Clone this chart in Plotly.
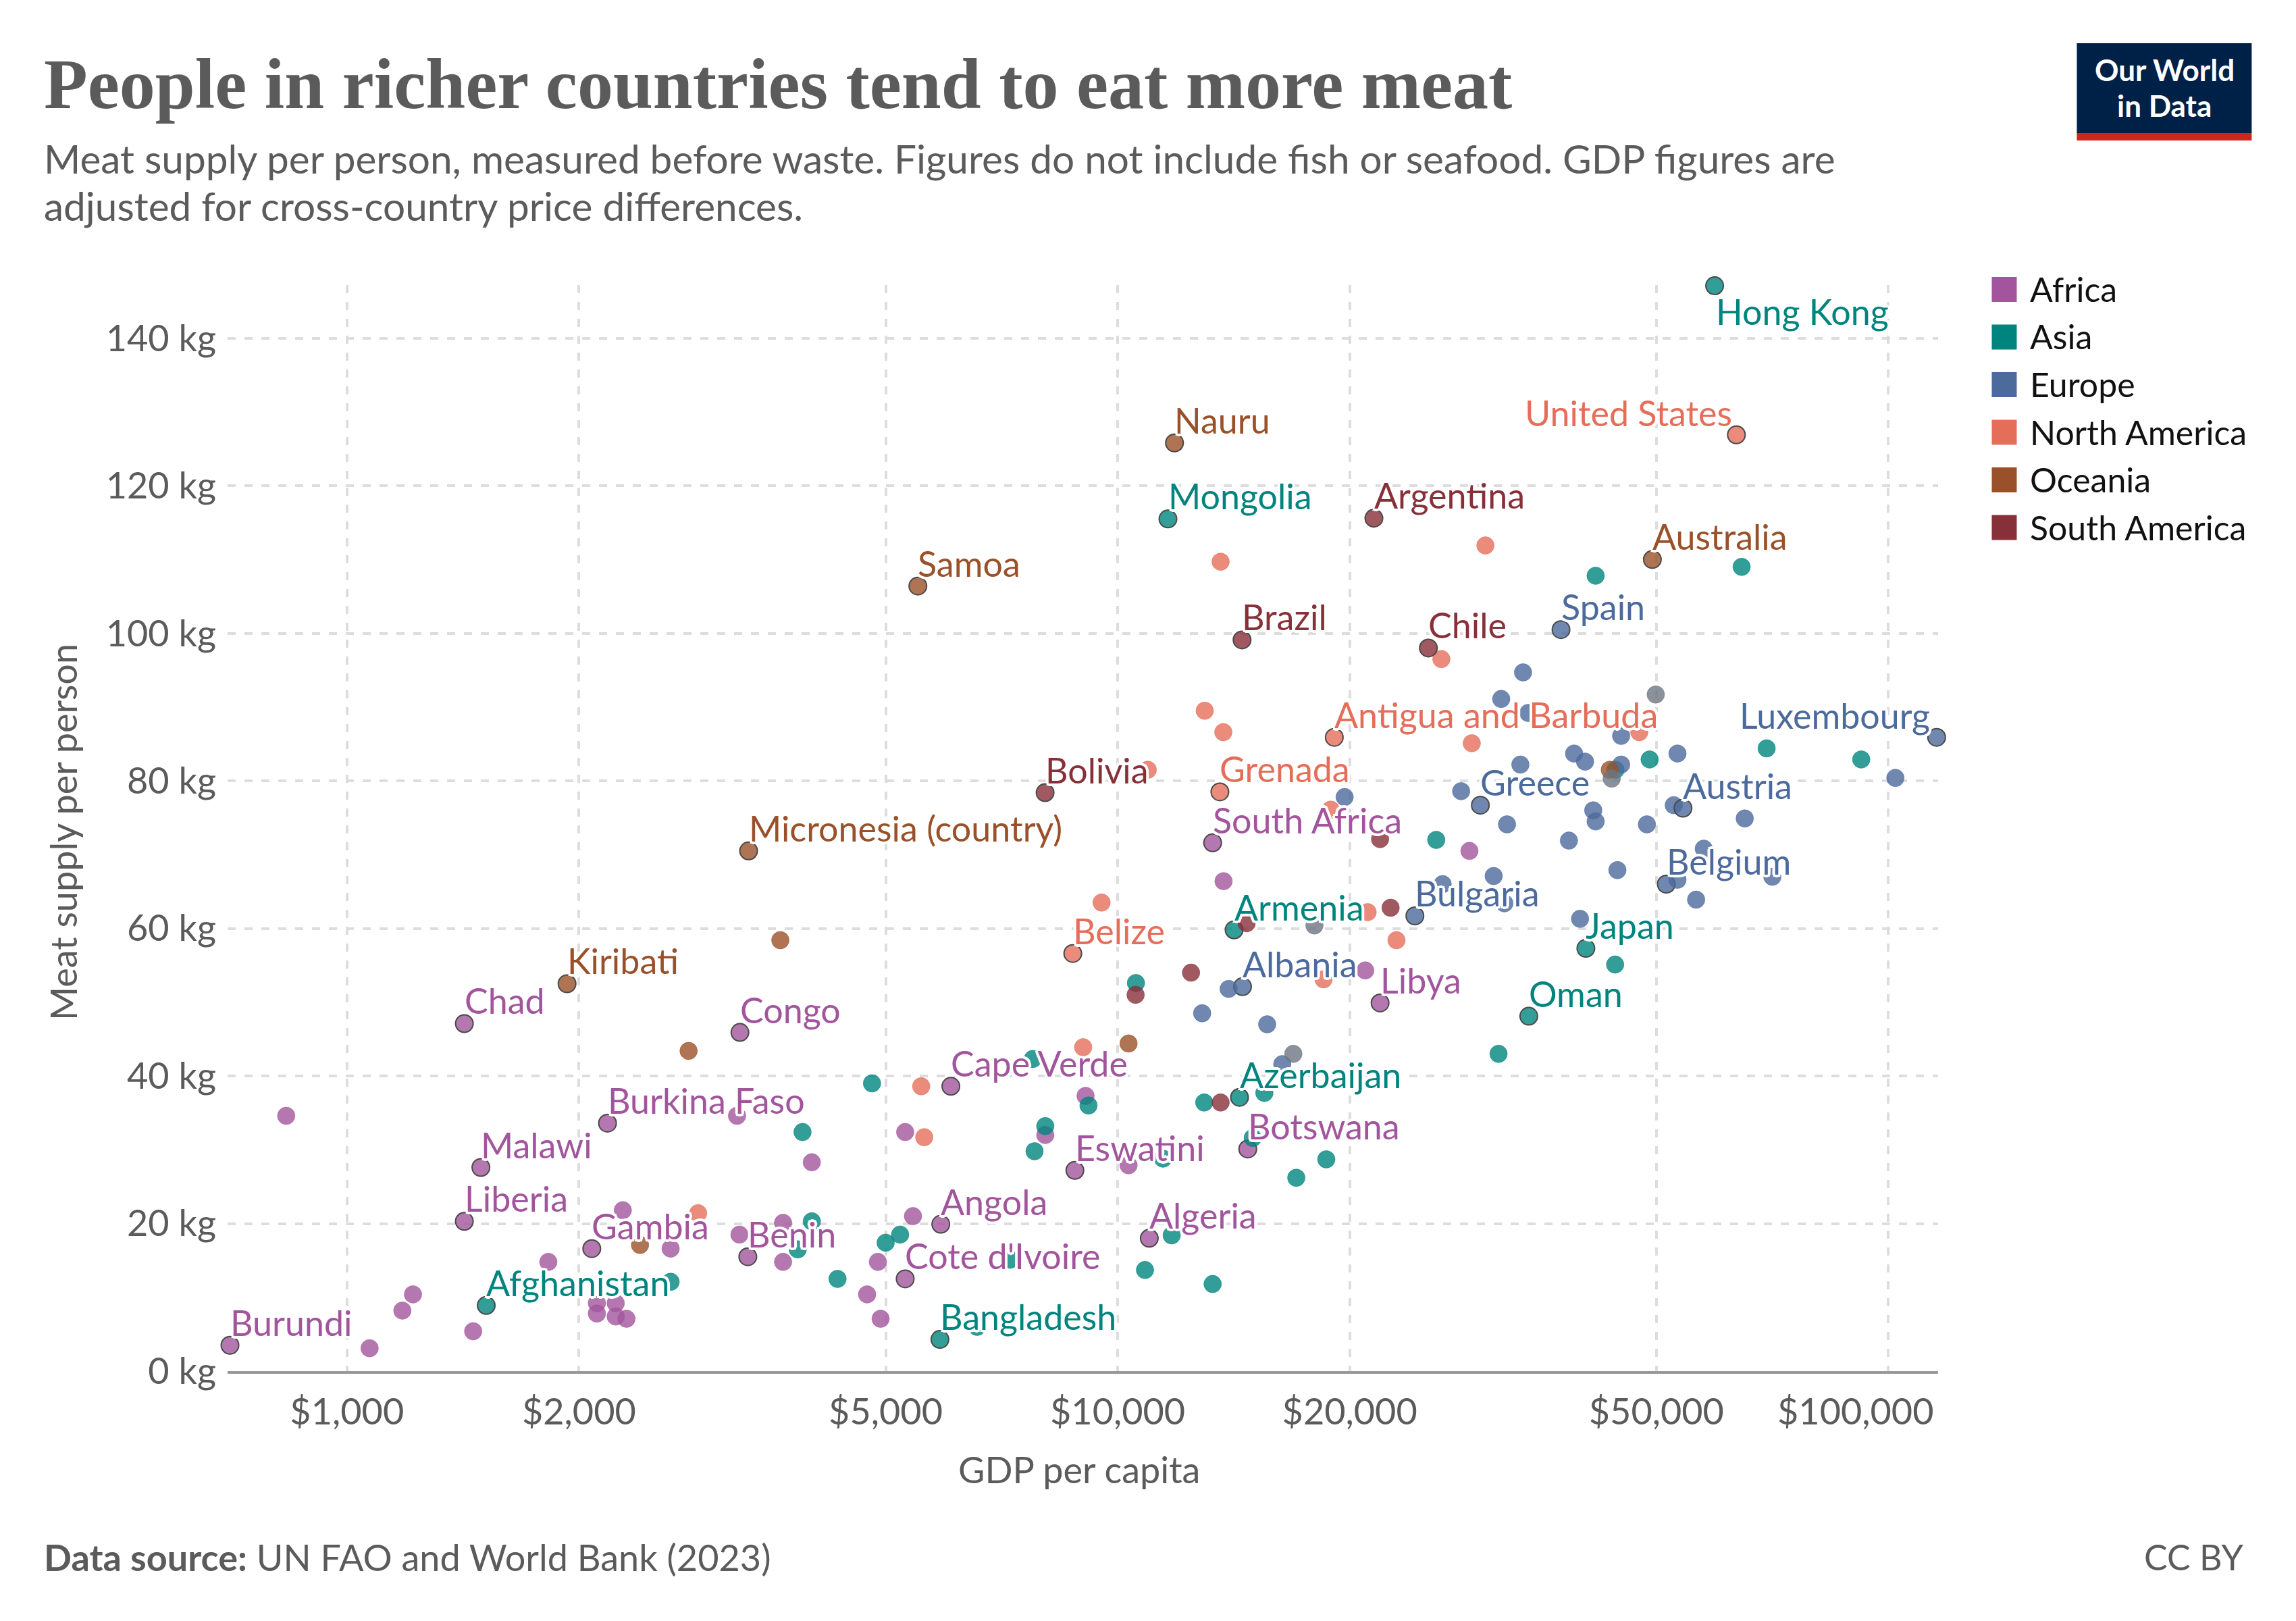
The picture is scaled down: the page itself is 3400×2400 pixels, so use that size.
import math

import plotly.graph_objects as go


# Values: GDP per capita ($), meat supply (kg), "" = no label
AFRICA_GDP = [705, 834, 1070, 1180, 1218, 1458, 1420, 1420, 1492, 1825, 2078, 2178, 2280, 2110, 2110,
              2232, 2232, 2305, 2630, 3230, 3312, 3680, 3680, 3235, 3207, 4010, 4730, 4925, 4885, 5300,
              5425, 5895, 5300, 6075, 8055, 8800, 10330, 9085, 10990, 13280, 13720, 28600, 20950, 21900, 14750]
AFRICA_MEAT = [3.5, 34.6, 3.1, 8.2, 10.4, 5.4, 47.1, 20.3, 27.6, 14.8, 16.6, 33.6, 21.8, 9.2, 7.8,
               9.2, 7.4, 7.1, 16.6, 18.5, 15.5, 14.8, 20.1, 45.9, 34.6, 28.3, 10.4, 7.1, 14.8, 12.5,
               21.0, 19.9, 32.4, 38.6, 32.0, 27.2, 27.9, 37.3, 18.0, 71.6, 66.4, 70.5, 54.3, 49.9, 30.1]
AFRICA_NAMES = ["Burundi", "", "", "", "", "", "Chad", "Liberia", "Malawi", "", "Gambia", "Burkina Faso", "", "", "",
                "", "", "", "", "", "Benin", "", "", "Congo", "", "", "", "", "", "Cote d'Ivoire",
                "", "Angola", "", "Cape Verde", "", "Eswatini", "", "", "Algeria", "South Africa", "", "", "", "Libya",
                "Botswana"]

ASIA_GDP = [1516, 3900, 4330, 4800, 5000, 5220, 5880, 6570, 7800, 8055, 9165, 7760, 10560, 10850, 7250,
            3845, 2630, 4010, 11450, 11620, 59500, 41700, 64500, 25900, 44250, 49000, 69500, 92200, 14160, 40500,
            44200, 34150, 31200, 15500, 14390, 12950, 14970, 18650, 17050, 11750, 13280]
ASIA_MEAT = [8.9, 32.4, 12.5, 39.0, 17.4, 18.5, 4.3, 6.0, 29.8, 33.2, 36.0, 42.3, 52.6, 13.7, 15.1,
             16.5, 12.1, 20.3, 28.8, 115.5, 147.1, 107.8, 109.0, 72.0, 81.5, 82.9, 84.4, 82.9, 59.8, 57.3,
             55.1, 48.1, 43.0, 37.7, 37.1, 36.4, 31.6, 28.7, 26.2, 18.4, 11.8]
ASIA_NAMES = ["Afghanistan", "", "", "", "", "", "Bangladesh", "", "", "", "", "", "", "", "",
              "", "", "", "", "Mongolia", "Hong Kong", "", "", "", "", "", "", "", "Armenia", "Japan",
              "", "Oman", "", "", "Azerbaijan", "", "", "", "", "", ""]

EUROPE_GDP = [37600, 33570, 31450, 115500, 102100, 65100, 45000, 39100, 40400, 45000, 53250, 33300, 29550, 27900,
              32000, 19700, 52660, 54130, 41400, 41700, 48600, 38500, 44500, 51500, 53250, 57600, 56300, 70700,
              30750, 24300, 39800, 31750, 26400, 14520, 13930, 12870, 15630, 16350, 34100]
EUROPE_MEAT = [100.5, 94.7, 91.1, 85.9, 80.4, 74.9, 86.1, 83.7, 82.6, 82.2, 83.7, 82.2, 76.7, 78.6,
               74.1, 77.8, 76.7, 76.3, 76.0, 74.5, 74.1, 71.9, 67.9, 66.0, 66.6, 70.8, 63.9, 67.0,
               67.1, 61.7, 61.3, 63.4, 66.0, 52.1, 51.8, 48.5, 47.0, 41.6, 89.2]
EUROPE_NAMES = ["Spain", "", "", "Luxembourg", "", "", "", "", "", "", "", "", "Greece", "",
                "", "", "", "Austria", "", "", "", "", "", "Belgium", "", "", "", "",
                "", "Bulgaria", "", "", "", "Albania", "", "", "", "", ""]

NAMERICA_GDP = [63500, 30000, 13600, 26300, 12970, 13710, 19100, 28800, 47500, 10940, 13570, 18900,
                21100, 23000, 18500, 8745, 9530, 9020, 5560, 5610, 2855]
NAMERICA_MEAT = [126.9, 111.9, 109.7, 96.5, 89.5, 86.6, 85.9, 85.1, 86.6, 81.5, 78.5, 76.1,
                 62.2, 58.4, 53.1, 56.6, 63.5, 43.9, 38.6, 31.7, 21.4]
NAMERICA_NAMES = ["United States", "", "", "", "", "", "Antigua and Barbuda", "", "", "", "Grenada", "",
                  "", "", "", "Belize", "", "", "", "", ""]

OCEANIA_GDP = [11850, 5505, 3320, 3650, 1930, 2775, 2400, 10330, 49400, 43500]
OCEANIA_MEAT = [125.8, 106.4, 70.5, 58.4, 52.5, 43.4, 17.1, 44.4, 110.0, 81.5]
OCEANIA_NAMES = ["Nauru", "Samoa", "Micronesia (country)", "", "Kiribati", "", "", "", "Australia", ""]

SAMERICA_GDP = [21500, 14500, 25300, 8050, 21900, 22600, 14700, 12450, 13600, 10550]
SAMERICA_MEAT = [115.6, 99.1, 98.0, 78.4, 72.1, 62.8, 60.7, 54.0, 36.4, 51.0]
SAMERICA_NAMES = ["Argentina", "Brazil", "Chile", "Bolivia", "", "", "", "", "", ""]

# countries without a continent in the source, drawn grey
OTHER_GDP = [49900, 43750, 18000, 16900]
OTHER_MEAT = [91.7, 80.3, 60.4, 43.0]
OTHER_NAMES = ["", "", "", ""]

X_TICKS = [1000, 2000, 5000, 10000, 20000, 50000, 100000]
X_TICK_LABELS = ["$1,000", "$2,000", "$5,000", "$10,000", "$20,000", "$50,000", "$100,000"]
Y_TICKS = [0, 20, 40, 60, 80, 100, 120, 140]
Y_TICK_LABELS = ["0 kg", "20 kg", "40 kg", "60 kg", "80 kg", "100 kg", "120 kg", "140 kg"]

CONTINENTS = ["Africa", "Asia", "Europe", "North America", "Oceania", "South America"]
COLORES = ["#A2559C", "#00847E", "#4C6A9C", "#E56E5A", "#9A5129", "#883039"]

SERIES = [
    (AFRICA_GDP, AFRICA_MEAT, AFRICA_NAMES, "#A2559C"),
    (ASIA_GDP, ASIA_MEAT, ASIA_NAMES, "#00847E"),
    (EUROPE_GDP, EUROPE_MEAT, EUROPE_NAMES, "#4C6A9C"),
    (NAMERICA_GDP, NAMERICA_MEAT, NAMERICA_NAMES, "#E56E5A"),
    (OCEANIA_GDP, OCEANIA_MEAT, OCEANIA_NAMES, "#9A5129"),
    (SAMERICA_GDP, SAMERICA_MEAT, SAMERICA_NAMES, "#883039"),
    (OTHER_GDP, OTHER_MEAT, OTHER_NAMES, "#6E7581"),
]

# Plot area in page pixels
LEFT, RIGHT, TOP, BOTTOM = 337, 2870.5, 422, 2030
FUENTE = "Lato"
GRIS = "#5b5b5b"
HALO = ",".join(f"{a}px {b}px 0 #fff" for a, b in
                [(-4, 0), (4, 0), (0, -4), (0, 4), (-3, -3), (3, -3), (-3, 3), (3, 3),
                 (-2, 0), (2, 0), (0, -2), (0, 2)])

# Labels that do not sit just above and to the right of their point
LABEL_SPECIAL = {
    "Hong Kong": dict(xanchor="left", xshift=0, yshift=-38),
    "United States": dict(xanchor="right", xshift=-4, yshift=33),
    "Luxembourg": dict(xanchor="right", xshift=-8, yshift=33),
}


def px_x(px):
    return (px - LEFT) / (RIGHT - LEFT)


def px_y(py):
    return (BOTTOM - py) / (BOTTOM - TOP)


def rgba(color, alpha):
    r, g, b = int(color[1:3], 16), int(color[3:5], 16), int(color[5:7], 16)
    return f"rgba({r},{g},{b},{alpha})"


def texto(fig, x, y, text, size, color=GRIS, anchor="left", family=FUENTE, **kw):
    fig.add_annotation(
        x=px_x(x), y=px_y(y), xref="paper", yref="paper", text=text, showarrow=False,
        xanchor=anchor, yanchor="middle", font=dict(family=family, size=size, color=color),
        **kw,
    )


fig = go.Figure()

for gdp, meat, names, color in SERIES:
    fig.add_trace(go.Scatter(
        x=gdp,
        y=meat,
        mode="markers",
        text=names,
        cliponaxis=False,
        showlegend=False,
        marker=dict(
            size=26,
            color=rgba(color, 0.8),
            line=dict(
                width=[2 if n else 1 for n in names],
                color=["#4a4a4a" if n else rgba(color, 0.5) for n in names],
            ),
        ),
    ))

# Country labels go last, with a white halo that cuts into the points beneath
for gdp, meat, names, color in SERIES:
    for g, m, n in zip(gdp, meat, names):
        if not n:
            continue
        pos = LABEL_SPECIAL.get(n, dict(xanchor="left", xshift=-2, yshift=34))
        fig.add_annotation(
            x=math.log10(g), y=m, text=n, showarrow=False, yanchor="middle",
            font=dict(family=FUENTE, size=52, color=color, shadow=HALO),
            **pos,
        )

fig.update_xaxes(
    type="log",
    range=[math.log10(700), math.log10(116000)],
    tickvals=X_TICKS,
    # the last label is pulled inside the plot edge, see below
    ticktext=X_TICK_LABELS[:-1] + [""],
    tickfont=dict(family=FUENTE, size=54, color=GRIS),
    ticklabelstandoff=10,
    showgrid=True,
    gridcolor="#dddddd",
    gridwidth=3.5,
    griddash="12px,13px",
    showline=True,
    linecolor="#999999",
    linewidth=4,
    ticks="",
    zeroline=False,
)
fig.update_yaxes(
    range=[0, 147.2],
    tickvals=Y_TICKS,
    ticktext=Y_TICK_LABELS,
    tickfont=dict(family=FUENTE, size=54, color=GRIS),
    ticklabelstandoff=16,
    showgrid=True,
    gridcolor="#dddddd",
    gridwidth=3.5,
    griddash="12px,13px",
    ticks="",
    zeroline=False,
)

# Titles and footer
texto(fig, 63, 124, "<b>People in richer countries tend to eat more meat</b>", 106, family="Liberation Serif")
texto(fig, 63, 234, "Meat supply per person, measured before waste. Figures do not include fish or seafood. "
                    "GDP figures are", 58.5)
texto(fig, 63, 304, "adjusted for cross-country price differences.", 58.5)
texto(fig, 2866, 2088, X_TICK_LABELS[-1], 54, anchor="right")
texto(fig, 1598, 2175, "GDP per capita", 54, anchor="center")
texto(fig, 93, 1232, "Meat supply per person", 54, anchor="center", textangle=-90)
texto(fig, 63, 2305, "<b>Data source:</b> UN FAO and World Bank (2023)", 54)
texto(fig, 3325, 2305, "CC BY", 52, anchor="right")

# Legend squares and names
formas = []
for i, (nombre, color) in enumerate(zip(CONTINENTS, COLORES)):
    y0 = 410 + i * 70.5
    formas.append(dict(type="rect", xref="paper", yref="paper", x0=px_x(2950), x1=px_x(2987),
                       y0=px_y(y0), y1=px_y(y0 + 37), fillcolor=color, line_width=0))
    texto(fig, 3005, y0 + 18, nombre, 50, color="#111111")

# Logo
formas.append(dict(type="rect", xref="paper", yref="paper", x0=px_x(3076), x1=px_x(3335),
                   y0=px_y(64), y1=px_y(197), fillcolor="#002147", line_width=0))
formas.append(dict(type="rect", xref="paper", yref="paper", x0=px_x(3076), x1=px_x(3335),
                   y0=px_y(197), y1=px_y(208), fillcolor="#CE261E", line_width=0))
texto(fig, 3206, 103, "<b>Our World</b>", 44, color="#ffffff", anchor="center")
texto(fig, 3206, 156, "<b>in Data</b>", 44, color="#ffffff", anchor="center")

fig.update_layout(
    width=3400,
    height=2400,
    margin=dict(l=LEFT, r=3400 - RIGHT, t=TOP, b=2400 - BOTTOM, autoexpand=False),
    paper_bgcolor="white",
    plot_bgcolor="white",
    font=dict(family=FUENTE, color=GRIS),
    shapes=formas,
    hovermode="closest",
)

fig.write_html("out.html", config={"displayModeBar": False}, post_script="document.body.style.margin = '0';")
